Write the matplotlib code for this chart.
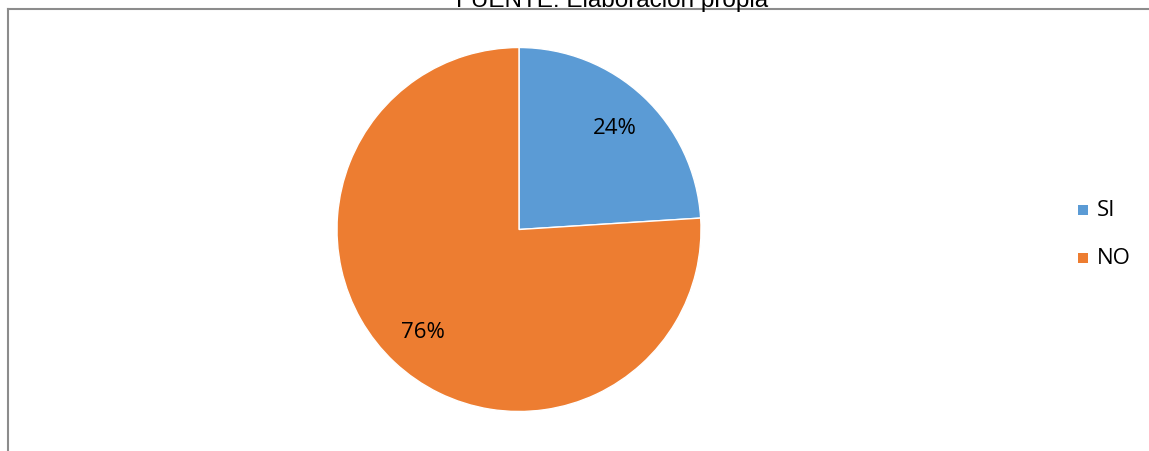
import matplotlib.pyplot as plt
from matplotlib.lines import Line2D
from matplotlib.patches import Rectangle

labels = ["SI", "NO"]
values = [24, 76]
colors = ["#5B9BD5", "#ED7D31"]

W, H = 1149, 452
fig = plt.figure(figsize=(W / 100, H / 100), dpi=100)

# pie area: centre (519, 230), radius 182 px
cx, cy, r = 519, 230.5, 182
ax = fig.add_axes([(cx - r) / W, 1 - (cy + r) / H, 2 * r / W, 2 * r / H])
ax.pie(values, colors=colors, startangle=90, counterclock=False,
       autopct="%1.0f%%", pctdistance=0.77, radius=1,
       wedgeprops=dict(edgecolor="white", linewidth=1),
       textprops=dict(fontsize=16, family="Open Sans", color="#000000"))
ax.set_xlim(-1, 1)
ax.set_ylim(-1, 1)
ax.set_aspect("auto")
ax.axis("off")

# frame lines (top and left)
fig.add_artist(Line2D([8 / W, 1], [1 - 10 / H, 1 - 10 / H], color="#8c8c8c", lw=1.5))
fig.add_artist(Line2D([8 / W, 8 / W], [0, 1 - 10 / H], color="#8c8c8c", lw=1.5))

fig.text(612 / W, 1 - 7 / H, "FUENTE: Elaboración propia", ha="center", va="baseline",
         fontsize=17.5, family="Liberation Sans", color="#000000")

# legend
for i, (lab, col) in enumerate(zip(labels, colors)):
    y = 211 + 48 * i
    fig.add_artist(Rectangle(((1078) / W, 1 - (y + 5) / H), 10 / W, 10 / H,
                             facecolor=col, edgecolor="none"))
    fig.text(1097 / W, 1 - y / H, lab, ha="left", va="center",
             fontsize=16, family="Open Sans", color="#000000")

fig.savefig("out.png", dpi=100, facecolor="white")
